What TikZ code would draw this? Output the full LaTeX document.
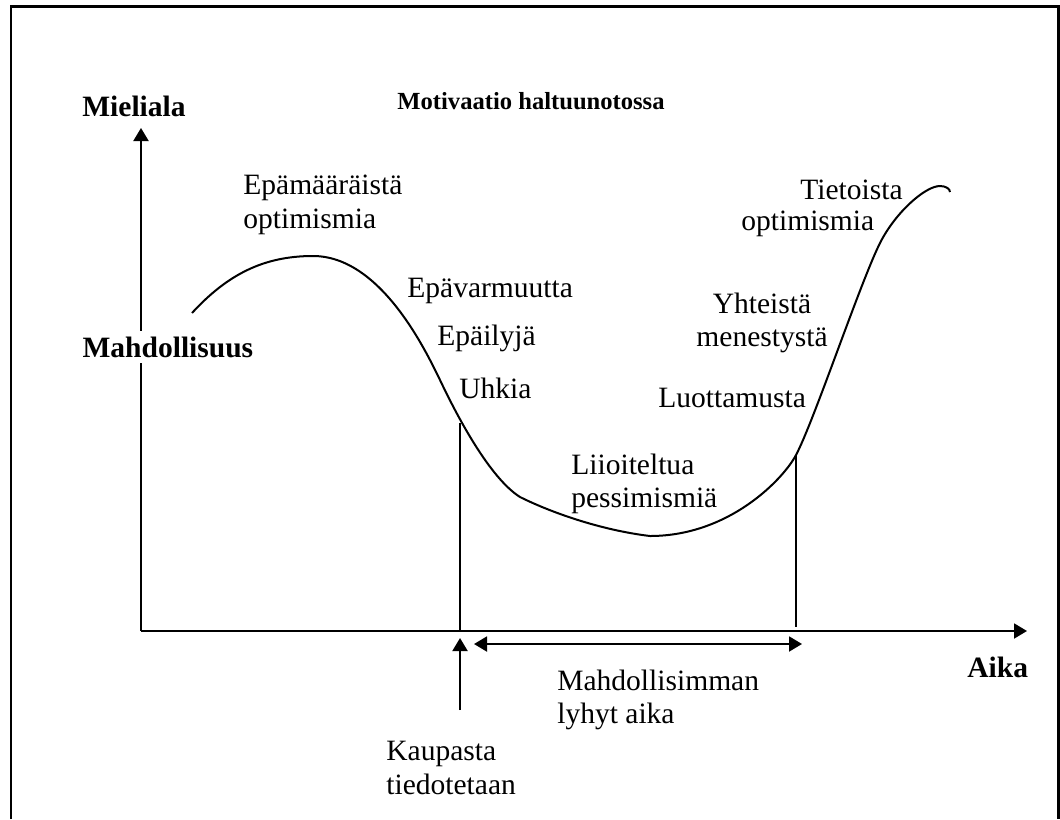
\documentclass[tikz,border=0pt]{standalone}
\usepackage{fontspec}
\setmainfont{Liberation Serif}
\usetikzlibrary{arrows.meta, positioning}

\begin{document}
\begin{tikzpicture}[x=0.02cm, y=-0.02cm,
		lbl/.style={inner sep=0pt, anchor=west, align=left, font=\fontsize{16.8}{19}\selectfont},
		head/.style={lbl, font=\fontsize{16.8}{19}\selectfont\bfseries},
		axis/.style={-{Triangle[length=0.26cm, width=0.3cm]}, line width=0.04cm},
		span/.style={{Triangle[length=0.26cm, width=0.3cm]}-{Triangle[length=0.26cm, width=0.3cm]}, line width=0.04cm},
		mark line/.style={line width=0.035cm},
		frame/.style={line width=0.06cm}
	]
	\useasboundingbox (0,0) rectangle (1060,819);

	% Frame
	\draw[frame] (11,819) -- (11,6) -- (1058.5,6) -- (1058.5,819);

	% Axes
	\coordinate (O) at (141,631);
	\coordinate (ytip) at (141,128);
	\coordinate (xtip) at (1027,631);
	\draw[axis] (O) -- (ytip);
	\draw[axis] (O) -- (xtip);
	\node[head] (mieliala) at (82,106) {Mieliala};
	\node[head] (aika) at (967,667) {Aika};
	\node[head, anchor=center, font=\fontsize{14}{16}\selectfont\bfseries] (title) at (531,101) {Motivaatio haltuunotossa};
	\node[head, fill=white, inner sep=3pt] (mahd) at (77,347) {Mahdollisuus};

	% Curve
	\draw[line width=0.04cm] (192,313)
		.. controls (227,275) and (263,256) .. (313,256)
		.. controls (380,256) and (425,349) .. (440,380)
		.. controls (458,418) and (490,478) .. (520,497)
		.. controls (550,512) and (600,530) .. (650,536)
		.. controls (730,536) and (784,478) .. (796,455)
		.. controls (814,421) and (860,283) .. (880,243)
		.. controls (895,213) and (925,186) .. (940,186)
		.. controls (946,186) and (950,189) .. (950,192);

	% Curve labels
	\node[lbl] (epamaar) at (243,205) {Epämääräistä\\optimismia};
	\node[lbl] (epavarm) at (407,291) {Epävarmuutta};
	\node[lbl] (epailyja) at (437,338) {Epäilyjä};
	\node[lbl] (uhkia) at (459,388) {Uhkia};
	\node[lbl] (liioit) at (571,484) {Liioiteltua\\pessimismiä};
	\node[lbl] (luott) at (658,398) {Luottamusta};
	\node[lbl, anchor=center, align=center] (yhteis) at (762,323) {Yhteistä\\menestystä};
	\node[lbl] (tietoista) at (800,190) {Tietoista};
	\node[lbl] (optim) at (741,224) {optimismia};

	% Time span
	\coordinate (c1) at (460,423);
	\coordinate (c2) at (796,455);
	\draw[mark line] (c1) -- (c1 |- O);
	\draw[mark line] (c2) -- (796,627);
	\coordinate (s1) at (474,644);
	\coordinate (s2) at (802,644);
	\draw[span] (s1) -- (s2);
	\node[lbl] (lyhyt) at (557,700) {Mahdollisimman\\lyhyt aika};

	% Announcement
	\coordinate (k0) at (460,710);
	\coordinate (k1) at (460,638);
	\draw[axis] (k0) -- (k1);
	\node[lbl] (kaup) at (386,768) {Kaupasta\\tiedotetaan};
\end{tikzpicture}
\end{document}
